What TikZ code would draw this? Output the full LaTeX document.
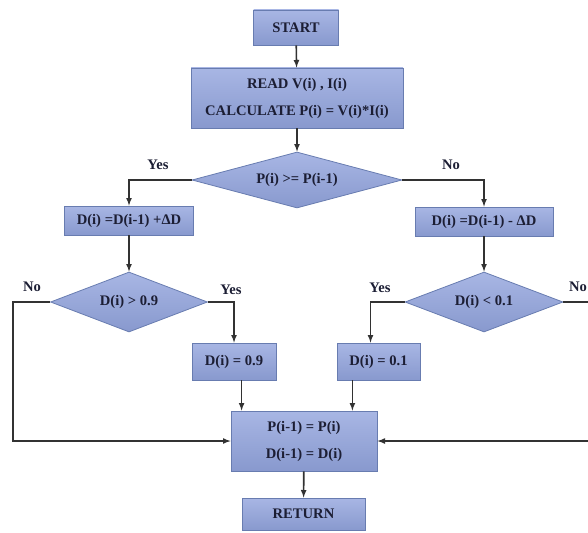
\documentclass[tikz,border=0pt]{standalone}
\usepackage{fontspec}
\setmainfont{Liberation Serif}
\usetikzlibrary{shapes.geometric}
\definecolor{boxtop}{RGB}{168,182,228}
\definecolor{boxbot}{RGB}{136,153,206}
\definecolor{boxline}{RGB}{104,124,176}
\definecolor{inktext}{RGB}{28,30,52}
\definecolor{flowline}{RGB}{50,50,50}
\tikzstyle{block}=[draw=boxline, line width=0.8pt, top color=boxtop, bottom color=boxbot, text=inktext, font=\bfseries\fontsize{14.6}{16}\selectfont, inner sep=0pt]
\tikzstyle{decision}=[block, diamond]
\tikzstyle{answer}=[text=inktext, font=\bfseries\fontsize{14.6}{16}\selectfont]
\tikzstyle{flow}=[draw=flowline, line width=1.6pt, -latex]

\begin{document}
\begin{tikzpicture}[x=1pt, y=-1pt]
        \useasboundingbox (0, 0) rectangle (588, 532);
        \node[block, minimum width=85pt, minimum height=35pt]   (start)  at (296, 27.5) {START};
        \node[block, minimum width=212pt, minimum height=60pt, align=center] (read) at (297, 98)
            {READ V(i) , I(i)\\[11pt]CALCULATE P(i) = V(i)*I(i)};
        \node[decision, aspect=3.75, minimum width=210pt, minimum height=56pt] (dec1) at (297, 180) {P(i) >= P(i-1)};
        \node[block, minimum width=129pt, minimum height=29pt]  (incbox) at (129, 220.5) {D(i) =D(i-1) +ΔD};
        \node[block, minimum width=138pt, minimum height=29pt]  (decbox) at (484, 221.5) {D(i) =D(i-1) - ΔD};
        \node[decision, aspect=2.6, minimum width=157pt, minimum height=60pt] (dec2) at (129, 302) {D(i) > 0.9};
        \node[decision, aspect=2.6, minimum width=158pt, minimum height=60pt] (dec3) at (484, 302) {D(i) < 0.1};
        \node[block, minimum width=84pt, minimum height=37pt]   (set9)   at (234, 361.5) {D(i) = 0.9};
        \node[block, minimum width=83pt, minimum height=37pt]   (set1)   at (378.5, 361.5) {D(i) = 0.1};
        \node[block, minimum width=146pt, minimum height=60pt, align=center] (update) at (304, 441)
            {P(i-1) = P(i)\\[11pt]D(i-1) = D(i)};
        \node[block, minimum width=123pt, minimum height=32pt]  (ret)    at (303.5, 514) {RETURN};
        \node[answer] (yes1) at (158, 165) {Yes};
        \node[answer] (no1)  at (451, 165) {No};
        \node[answer] (no2)  at (32, 287) {No};
        \node[answer] (yes2) at (231, 290) {Yes};
        \node[answer] (yes3) at (380, 288) {Yes};
        \node[answer] (no3)  at (578, 287) {No};
        \coordinate (leftrail)  at (13, 302);
        \coordinate (rightrail) at (591, 302);
        \draw[flow] (start) -- (read);
        \draw[flow] (read) -- (dec1);
        \draw[flow] (dec1.west) -| (incbox.north);
        \draw[flow] (dec1.east) -| (decbox.north);
        \draw[flow] (incbox) -- (dec2);
        \draw[flow] (decbox) -- (dec3);
        \draw[flow] (dec2.east) -| (set9.north);
        \draw[flow] (dec3.west) -| ([xshift=-8pt]set1.north);
        \draw[flow] (dec2.west) -- (leftrail) |- (update.west);
        \draw[flow] (dec3.east) -- (rightrail) |- (update.east);
        \draw[flow] ([xshift=11pt]update.north west |- set9.south) -- ([xshift=11pt]update.north west);
        \draw[flow] ([xshift=-25pt]update.north east |- set1.south) -- ([xshift=-25pt]update.north east);
        \draw[flow] (update) -- (ret);
    \end{tikzpicture}
\end{document}
